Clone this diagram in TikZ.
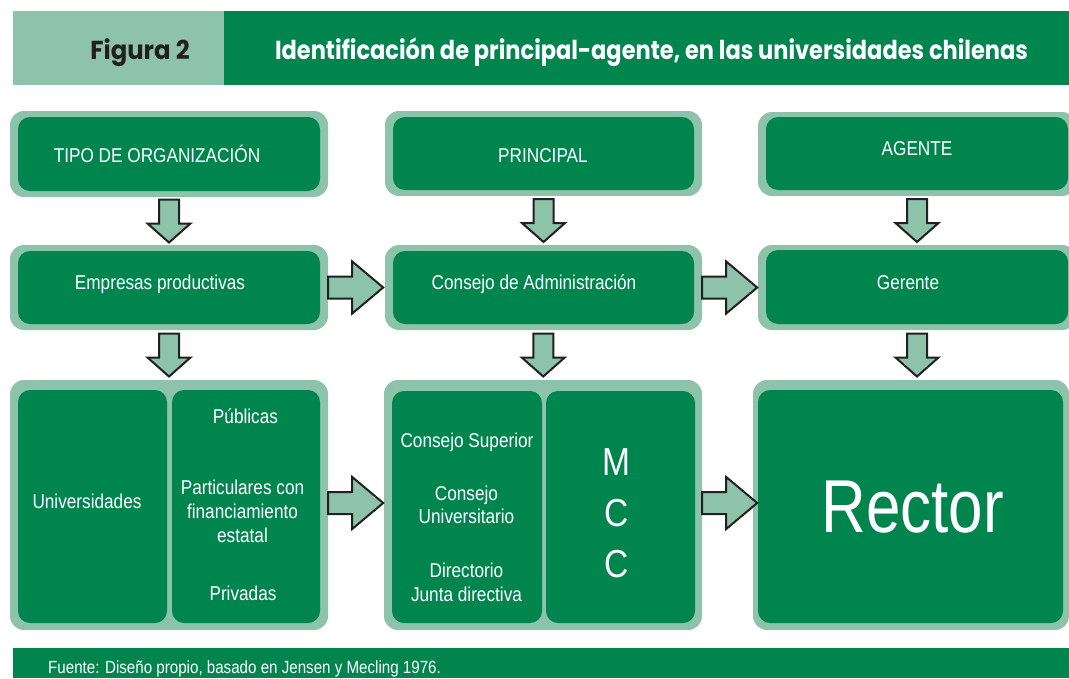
\documentclass[tikz,border=0pt]{standalone}
\usepackage{fontspec}
\setmainfont{Liberation Sans}[FakeStretch=0.86]
\newfontfamily\titlefont{Poppins}[FakeStretch=0.866]
\usetikzlibrary{calc}
\definecolor{verde}{HTML}{00854F}
\definecolor{verdeclaro}{HTML}{8CC3AA}
\definecolor{tinta}{HTML}{231F20}

\begin{document}
\begin{tikzpicture}[x=1pt,y=-1pt,
  outerbox/.style={fill=verdeclaro,rounded corners=14pt,inner sep=0pt},
  innerbox/.style={fill=verde,rounded corners=12pt,inner sep=0pt},
  txt/.style={text=white,font=\fontsize{20}{24}\selectfont,align=center,inner sep=0pt,anchor=base},
  blockarrow/.style={fill=verdeclaro,draw=tinta,line width=2pt,line join=miter},
  pics/downarr/.style={code={\path[blockarrow] (-10,-21.5) -- (10,-21.5) -- (10,2.5) -- (21.5,2.5) -- (0,21.5) -- (-21.5,2.5) -- (-10,2.5) -- cycle;}},
  pics/rightarr/.style={code={\path[blockarrow] (0,-11) -- (24,-11) -- (24,-26) -- (55,0) -- (24,26) -- (24,11) -- (0,11) -- cycle;}}]
\useasboundingbox (0,0) rectangle (1069,678);
\clip (0,0) rectangle (1069,678);
\fill[verdeclaro] (13,11) rectangle (224,85);
\fill[verde] (224,11) rectangle (1069,85);
\node[anchor=base,text=tinta,font=\titlefont\bfseries\fontsize{26}{30}\selectfont] (fig) at (140,59) {\scalebox{1.08}[1]{Figura 2}};
\node[anchor=base,text=white,font=\titlefont\bfseries\fontsize{26}{30}\selectfont] (tit) at (651.5,59) {Identificación de principal-agente, en las universidades chilenas};

\node[outerbox,minimum width=318,minimum height=86] (org) at (169,154) {};
\node[innerbox,minimum width=302,minimum height=74] (orgI) at (169,154) {};
\node[outerbox,minimum width=317,minimum height=85] (prin) at (543.5,153.5) {};
\node[innerbox,minimum width=301,minimum height=73] (prinI) at (543.5,153.5) {};
\node[outerbox,minimum width=318,minimum height=84] (age) at (917,154) {};
\node[innerbox,minimum width=302,minimum height=73] (ageI) at (917,153.5) {};

\node[outerbox,minimum width=318,minimum height=85] (emp) at (169,287.5) {};
\node[innerbox,minimum width=302,minimum height=73] (empI) at (169,287.5) {};
\node[outerbox,minimum width=317,minimum height=85] (cons) at (543.5,287.5) {};
\node[innerbox,minimum width=301,minimum height=73] (consI) at (543.5,287.5) {};
\node[outerbox,minimum width=318,minimum height=85] (ger) at (917,287.5) {};
\node[innerbox,minimum width=302,minimum height=74] (gerI) at (917,287) {};

\node[outerbox,minimum width=318,minimum height=250] (univ) at (169,505) {};
\node[innerbox,minimum width=149,minimum height=233] (univI) at (92.5,506.5) {};
\node[innerbox,minimum width=148,minimum height=233] (tiposI) at (246,506.5) {};
\node[outerbox,minimum width=318,minimum height=250] (cs) at (543,505) {};
\node[innerbox,minimum width=150,minimum height=232] (consejosI) at (467,507) {};
\node[innerbox,minimum width=149,minimum height=232] (mccI) at (620.5,507) {};
\node[outerbox,minimum width=316,minimum height=250] (rec) at (911,505) {};
\node[innerbox,minimum width=305,minimum height=233] (recI) at (910.5,506.5) {};

\fill[verde] (13,648) rectangle (1069,678);

\node[txt] (tipoT) at (157,162) {TIPO DE ORGANIZACIÓN};
\node[txt] (prinT) at (543,162) {PRINCIPAL};
\node[txt] (ageT) at (917,155) {AGENTE};
\node[txt] (empT) at (160,289) {Empresas productivas};
\node[txt] (consT) at (534,289) {Consejo de Administración};
\node[txt] (gerT) at (908,289) {Gerente};
\node[txt] (univT) at (87,508) {Universidades};
\node[txt] (pubT) at (245.5,423) {Públicas};
\node[txt] (partT) at (242.5,542) {Particulares con\\financiamiento\\estatal};
\node[txt] (privT) at (243,600) {Privadas};
\node[txt] (csupT) at (467,447) {Consejo Superior};
\node[txt,font=\fontsize{20}{23}\selectfont] (cuniT) at (466.5,523) {Consejo\\Universitario};
\node[txt] (dirT) at (466.5,601) {Directorio\\Junta directiva};
\node[txt,font=\fontsize{39}{51}\selectfont] (mccT) at (616.5,577) {M\\C\\C};
\node[txt,font=\fontsize{75}{80}\selectfont] (recT) at (912.5,532) {\scalebox{0.96}[1]{Rector}};
\node[txt,anchor=base west,font=\fontsize{17.6}{20}\selectfont] (fuenteT) at (48,673) {Fuente: Diseño propio, basado en Jensen y Mecling 1976.};

\pic at ($(org.south)!0.5!(emp.north)$) {downarr};
\pic at ($(prin.south)!0.5!(cons.north)$) {downarr};
\pic at ($(age.south)!0.5!(ger.north)$) {downarr};
\pic at ($(emp.south)!0.5!(univ.north)$) {downarr};
\pic at ($(cons.south)!0.5!(cs.north)$) {downarr};
\pic at ($(ger.south)!0.5!(ger.south|-rec.north)$) {downarr};
\pic at (emp.east) {rightarr};
\pic at (cons.east) {rightarr};
\pic at ([yshift=2]univ.east) {rightarr};
\pic at ([yshift=2]cs.east) {rightarr};
\end{tikzpicture}
\end{document}
